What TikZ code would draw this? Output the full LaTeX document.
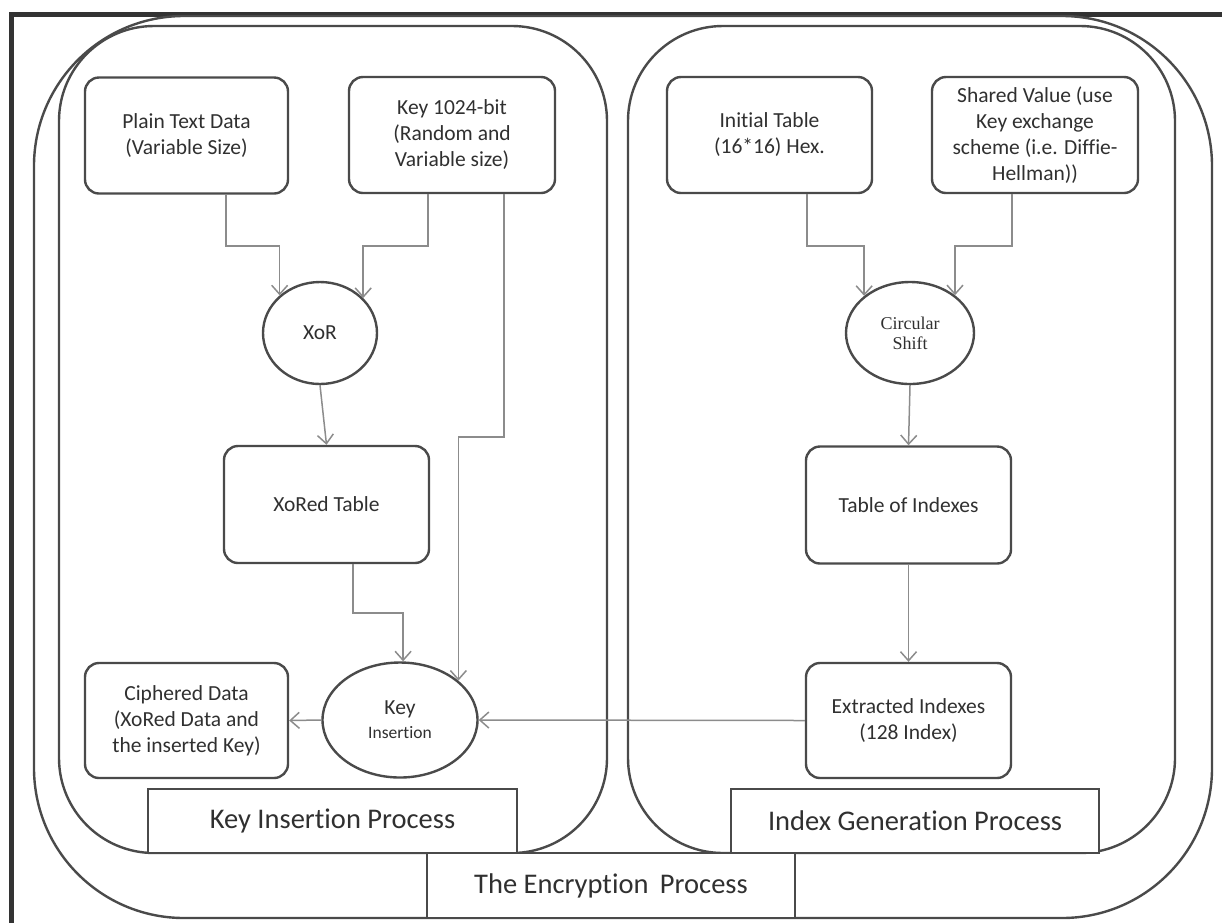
\documentclass[tikz,border=0pt]{standalone}
\usepackage{fontspec}
\setmainfont{Carlito}[Ligatures=NoCommon]
\newfontfamily\serifcs{Liberation Serif}
\usetikzlibrary{arrows.meta,shapes.geometric,calc}
\definecolor{ln}{HTML}{4A4A4A}
\definecolor{fr}{HTML}{333333}
\definecolor{cn}{HTML}{8C8C8C}
\definecolor{tx}{HTML}{303030}
\begin{document}
\begin{tikzpicture}[x=1pt,y=-1pt,
  box/.style={draw=ln, line width=2.4pt, rounded corners=14pt, fill=white, align=center, text=tx,
    minimum width=205pt, minimum height=116pt, inner sep=0pt, font=\fontsize{21.5}{26}\selectfont},
  oval/.style={ellipse, draw=ln, line width=2.4pt, fill=white, align=center, text=tx, inner sep=0pt,
    font=\fontsize{21.5}{26}\selectfont},
  cont/.style={draw=ln, line width=2.4pt},
  lbl/.style={draw=ln, line width=2.6pt, fill=white, text=tx, inner sep=0pt,
    minimum height=64pt, font=\fontsize{28.5}{30}\selectfont},
  conn/.style={draw=cn, line width=1.5pt, -{Straight Barb[length=9pt,width=16pt,line width=1.5pt]}}
]
\useasboundingbox (0,0) rectangle (1222,922);
% frame
\draw[draw=fr, line width=4.5pt] (11.3,930) -- (11.3,14.3) -- (1230,14.3);
% containers
\draw[cont, rounded corners=150pt] (34,16) rectangle (1212,918);
\draw[cont, rounded corners=95pt] (59,26) rectangle (607,853);
\draw[cont, rounded corners=95pt] (628,26) rectangle (1175,853);
% labels
\node[lbl, minimum width=369pt] (kip) at (332.5,821) {Key Insertion Process};
\node[lbl, minimum width=368pt] (igp) at (915,821) {Index Generation Process};
\node[lbl, minimum width=368pt, minimum height=65pt] (tep) at (611,885.5) {The Encryption\hspace{5pt} Process};
% boxes
\node[box, minimum width=203pt] (plain) at (186.5,135.5) {Plain Text Data\\(Variable Size)};
\node[box, minimum width=206pt] (key) at (452,135) {Key 1024-bit\\(Random and\\Variable size)};
\node[box] (init) at (769.5,135) {Initial Table\\(16*16) Hex.};
\node[box, minimum width=206pt] (shared) at (1035,135) {Shared Value (use\\Key exchange\\scheme (i.e. Diffie-\\Hellman))};
\node[box, minimum height=117pt] (xored) at (326.5,504.5) {XoRed Table};
\node[box, minimum height=117pt] (toi) at (908.5,505) {Table of Indexes};
\node[box, minimum width=203pt, minimum height=115pt] (ciph) at (186.5,720.5) {Ciphered Data\\(XoRed Data and\\the inserted Key)};
\node[box, minimum height=115pt] (ext) at (908.5,720.5) {Extracted Indexes\\(128 Index)};
% ovals
\node[oval, minimum width=114pt, minimum height=102pt] (xor) at (320,333) {XoR};
\node[oval, minimum width=128pt, minimum height=102pt, font=\serifcs\fontsize{18}{20}\selectfont] (cshift) at (910,333) {Circular\\Shift};
\node[oval, minimum width=155pt, minimum height=115pt] (keyins) at (400,720)
  {{\fontsize{21.5}{23}\selectfont Key}\\[-2pt]{\fontsize{17.5}{19}\selectfont Insertion}};
% connectors
\draw[conn] (plain.south -| 226,0) |- (xor.137.8 |- 0,246) -- (xor.137.8);
\draw[conn] (key.south -| 428,0) |- (xor.39.4 |- 0,246) -- (xor.39.4);
\draw[conn] (init.south -| 807,0) |- (cshift.141.1 |- 0,246) -- (cshift.141.1);
\draw[conn] (shared.south -| 1012,0) |- (cshift.40.1 |- 0,246) -- (cshift.40.1);
\draw[conn] (xor.south) -- (xored.north);
\draw[conn] (cshift.south) -- (toi.north);
\draw[conn] (toi.south) -- (ext.north);
\draw[conn] (xored.south -| 353,0) |- (keyins.87 |- 0,613) -- (keyins.87);
\draw[conn] (key.south -| 504,0) |- (keyins.34.4 |- 0,437) -- (keyins.34.4);
\draw[conn] (ext.west) -- (keyins.east);
\draw[conn] (keyins.west) -- (ciph.east);
\end{tikzpicture}
\end{document}
